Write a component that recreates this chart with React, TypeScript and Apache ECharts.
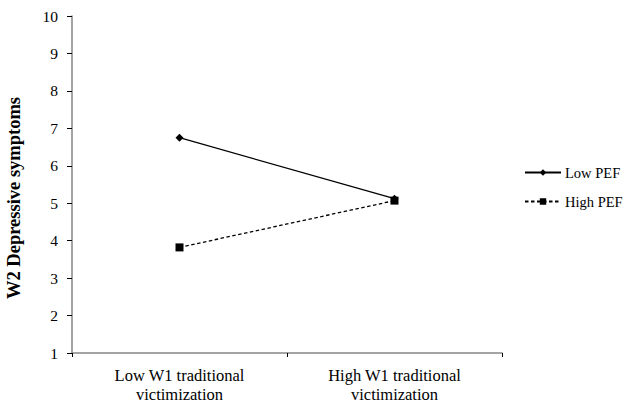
import React, { useEffect, useRef } from "react";
import * as echarts from "echarts";

const categories = ["Low W1 traditional\nvictimization", "High W1 traditional\nvictimization"];
const lowPEF = [6.75, 5.12];
const highPEF = [3.82, 5.07];
const seriesNames = ["Low PEF", "High PEF"];
const yTitle = "W2 Depressive symptoms";

export default function App() {
  const ref = useRef<HTMLDivElement>(null);
  useEffect(() => {
    if (!ref.current) return;
    const chart = echarts.init(ref.current, null, { renderer: "svg" });
    const font = "Liberation Serif";
    chart.setOption({
      animation: false,
      textStyle: { fontFamily: font },
      grid: { left: 72, right: 122, top: 16, bottom: 48 },
      legend: {
        orient: "vertical",
        left: 524,
        top: 165,
        padding: 0,
        itemWidth: 36,
        itemHeight: 8,
        itemGap: 14,
        textStyle: { fontFamily: font, fontSize: 14.5, lineHeight: 15, color: "#000", padding: [0, 0, 0, -1] },
        data: seriesNames,
      },
      graphic: [
        {
          type: "text",
          x: 14,
          y: 198,
          rotation: Math.PI / 2,
          style: {
            text: yTitle,
            fontFamily: font,
            fontSize: 18.5,
            fontWeight: "bold",
            fill: "#000",
            align: "center",
            verticalAlign: "middle",
          },
        },
      ],
      xAxis: {
        type: "category",
        data: categories,
        boundaryGap: true,
        axisLine: { lineStyle: { color: "#868686", width: 1.5 } },
        axisTick: { show: true, length: 4, lineStyle: { color: "#000" } },
        axisLabel: { color: "#000", fontSize: 16.5, fontFamily: font, lineHeight: 19, margin: 13 },
      },
      yAxis: {
        type: "value",
        min: 1,
        max: 10,
        interval: 1,
        splitLine: { show: false },
        axisLine: { show: true, lineStyle: { color: "#868686", width: 1.5 } },
        axisTick: { show: true, length: 5, lineStyle: { color: "#000" } },
        axisLabel: { color: "#000", fontSize: 15.5, fontFamily: font, margin: 14 },
      },
      series: [
        {
          name: seriesNames[0],
          type: "line",
          data: lowPEF,
          symbol: "diamond",
          symbolSize: 8,
          itemStyle: { color: "#000" },
          lineStyle: { color: "#000", width: 1.3, type: "solid" },
        },
        {
          name: seriesNames[1],
          type: "line",
          data: highPEF,
          symbol: "rect",
          symbolSize: 8,
          itemStyle: { color: "#000" },
          lineStyle: { color: "#000", width: 1.3, type: [3.5, 2.5] },
        },
      ],
    });
    return () => chart.dispose();
  }, []);
  return <div ref={ref} style={{ width: 624, height: 404, position: "absolute", left: 0, top: 0 }} />;
}
